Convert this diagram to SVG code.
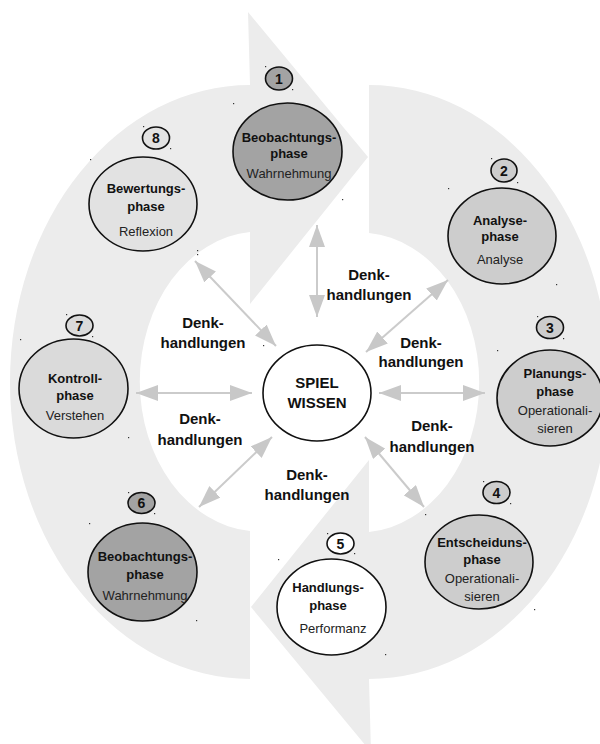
<svg xmlns="http://www.w3.org/2000/svg" width="600" height="744" viewBox="0 0 600 744">
<style>
.band{fill:#ececec}
.node{stroke:#111;stroke-width:1.6}
.num{stroke:#111;stroke-width:1.6}
.dark{fill:#a3a3a3}
.mid{fill:#cdcdcd}
.lt7{fill:#dadada}
.lt8{fill:#e2e2e2}
.wh{fill:#ffffff}
.b{font-family:"Liberation Sans",Arial,sans-serif;font-weight:bold;font-size:13px;fill:#111;text-anchor:middle}
.r{font-family:"Liberation Sans",Arial,sans-serif;font-size:13px;fill:#222;text-anchor:middle}
.nt{font-family:"Liberation Sans",Arial,sans-serif;font-weight:bold;font-size:14px;fill:#111;text-anchor:middle}
.c{font-family:"Liberation Sans",Arial,sans-serif;font-weight:bold;font-size:15px;fill:#111;text-anchor:middle}
.d{font-family:"Liberation Sans",Arial,sans-serif;font-weight:bold;font-size:15px;fill:#111;text-anchor:middle}
.con{stroke:#cbcbcb;stroke-width:2;fill:none;marker-start:url(#ah);marker-end:url(#ah)}
.dot{fill:#333}
</style>
<defs>
<marker id="ah" viewBox="0 0 22 16" refX="22" refY="8" markerWidth="22" markerHeight="16" markerUnits="userSpaceOnUse" orient="auto-start-reverse">
<path d="M0,0 L22,8 L0,16 Z" fill="#c8c8c8"/>
</marker>
</defs>
<g id="background">
<path id="arrow-left" class="band" d="M250,85 A240,297 0 0 0 250,679 L250,531 A120,150 0 0 1 250,232 L250,304 L368,157 L248,12 Z"/>
<path id="arrow-right" class="band" transform="rotate(180 309.5 382)" d="M250,85 A240,297 0 0 0 250,679 L250,531 A120,150 0 0 1 250,232 L250,304 L368,157 L248,12 Z"/>
</g>
<g id="connectors">
<line class="con" x1="317" y1="225" x2="317" y2="317"/>
<line class="con" x1="195" y1="261" x2="276" y2="346"/>
<line class="con" x1="448" y1="280" x2="366" y2="352"/>
<line class="con" x1="136" y1="393" x2="252" y2="393"/>
<line class="con" x1="379" y1="393" x2="485" y2="393"/>
<line class="con" x1="272" y1="437" x2="199" y2="507"/>
<line class="con" x1="365" y1="437" x2="424" y2="507"/>
</g>
<g id="labels">
<text class="d" x="369" y="280">Denk-</text><text class="d" x="369" y="300">handlungen</text>
<text class="d" x="421" y="348">Denk-</text><text class="d" x="421" y="367">handlungen</text>
<text class="d" x="203" y="328">Denk-</text><text class="d" x="203" y="348">handlungen</text>
<text class="d" x="200" y="424">Denk-</text><text class="d" x="200" y="445">handlungen</text>
<text class="d" x="432" y="431">Denk-</text><text class="d" x="432" y="452">handlungen</text>
<text class="d" x="307" y="480">Denk-</text><text class="d" x="307" y="500">handlungen</text>
</g>
<g id="center">
<ellipse class="node wh" cx="317" cy="393" rx="54" ry="48"/>
<text class="c" x="317" y="388">SPIEL</text>
<text class="c" x="317" y="408">WISSEN</text>
</g>
<g id="node1">
<ellipse class="num dark" cx="279" cy="78.5" rx="13.5" ry="11.5"/>
<text class="nt" x="279" y="83.5">1</text>
<ellipse class="node dark" cx="287.5" cy="151.5" rx="54.5" ry="48.5"/>
<text class="b" x="289" y="142">Beobachtungs-</text>
<text class="b" x="289" y="158">phase</text>
<text class="r" x="289" y="178">Wahrnehmung</text>
</g>
<g id="node2">
<ellipse class="num mid" cx="504" cy="170.5" rx="13" ry="11.5"/>
<text class="nt" x="504" y="175.5">2</text>
<ellipse class="node mid" cx="502" cy="236" rx="54" ry="48"/>
<text class="b" x="500" y="225">Analyse-</text>
<text class="b" x="500" y="241">phase</text>
<text class="r" x="500" y="264">Analyse</text>
</g>
<g id="node3">
<ellipse class="num mid" cx="550" cy="327.5" rx="13.5" ry="11"/>
<text class="nt" x="550" y="332.5">3</text>
<ellipse class="node mid" cx="550" cy="398" rx="53" ry="48"/>
<text class="b" x="555" y="378">Planungs-</text>
<text class="b" x="555" y="396">phase</text>
<text class="r" x="555" y="415">Operationali-</text>
<text class="r" x="555" y="433">sieren</text>
</g>
<g id="node4">
<ellipse class="num mid" cx="496.5" cy="492.5" rx="13.5" ry="11"/>
<text class="nt" x="496.5" y="497.5">4</text>
<ellipse class="node mid" cx="479" cy="562" rx="54" ry="47"/>
<text class="b" x="482" y="547">Entscheiduns-</text>
<text class="b" x="482" y="564">phase</text>
<text class="r" x="482" y="583">Operationali-</text>
<text class="r" x="482" y="601">sieren</text>
</g>
<g id="node5">
<ellipse class="num wh" cx="340.5" cy="543.5" rx="13.5" ry="10.5"/>
<text class="nt" x="340.5" y="548.5">5</text>
<ellipse class="node wh" cx="331.5" cy="607" rx="54.5" ry="48"/>
<text class="b" x="328" y="592">Handlungs-</text>
<text class="b" x="328" y="610">phase</text>
<text class="r" x="333" y="633">Performanz</text>
</g>
<g id="node6">
<ellipse class="num dark" cx="141.5" cy="503" rx="13.5" ry="10.5"/>
<text class="nt" x="141.5" y="508">6</text>
<ellipse class="node dark" cx="142.5" cy="572" rx="54.5" ry="49"/>
<text class="b" x="145" y="561">Beobachtungs-</text>
<text class="b" x="145" y="579">phase</text>
<text class="r" x="145" y="600">Wahrnehmung</text>
</g>
<g id="node7">
<ellipse class="num lt7" cx="79.5" cy="325.5" rx="13.5" ry="10.5"/>
<text class="nt" x="79.5" y="330.5">7</text>
<ellipse class="node lt7" cx="73.5" cy="388.5" rx="54.5" ry="49.5"/>
<text class="b" x="75" y="383">Kontroll-</text>
<text class="b" x="75" y="400">phase</text>
<text class="r" x="75" y="420">Verstehen</text>
</g>
<g id="node8">
<ellipse class="num lt8" cx="156" cy="138" rx="13.5" ry="11"/>
<text class="nt" x="156" y="143">8</text>
<ellipse class="node lt8" cx="143" cy="204" rx="54" ry="47"/>
<text class="b" x="146" y="193">Bewertungs-</text>
<text class="b" x="146" y="211">phase</text>
<text class="r" x="146" y="236">Reflexion</text>
</g>
<g id="handles">
<rect class="dot" x="265" y="66" width="1.2" height="1.2"/><rect class="dot" x="292" y="89" width="1.2" height="1.2"/>
<rect class="dot" x="233" y="103" width="1.2" height="1.2"/><rect class="dot" x="342" y="199" width="1.2" height="1.2"/>
<rect class="dot" x="491" y="158" width="1.2" height="1.2"/><rect class="dot" x="517" y="182" width="1.2" height="1.2"/>
<rect class="dot" x="448" y="188" width="1.2" height="1.2"/><rect class="dot" x="556" y="284" width="1.2" height="1.2"/>
<rect class="dot" x="537" y="316" width="1.2" height="1.2"/><rect class="dot" x="563" y="338" width="1.2" height="1.2"/>
<rect class="dot" x="497" y="350" width="1.2" height="1.2"/>
<rect class="dot" x="483" y="481" width="1.2" height="1.2"/><rect class="dot" x="510" y="503" width="1.2" height="1.2"/>
<rect class="dot" x="425" y="514" width="1.2" height="1.2"/><rect class="dot" x="534" y="609" width="1.2" height="1.2"/>
<rect class="dot" x="327" y="533" width="1.2" height="1.2"/><rect class="dot" x="354" y="553" width="1.2" height="1.2"/>
<rect class="dot" x="278" y="559" width="1.2" height="1.2"/><rect class="dot" x="385" y="654" width="1.2" height="1.2"/>
<rect class="dot" x="128" y="492" width="1.2" height="1.2"/><rect class="dot" x="154" y="513" width="1.2" height="1.2"/>
<rect class="dot" x="89" y="523" width="1.2" height="1.2"/><rect class="dot" x="196" y="620" width="1.2" height="1.2"/>
<rect class="dot" x="66" y="314" width="1.2" height="1.2"/><rect class="dot" x="92" y="336" width="1.2" height="1.2"/>
<rect class="dot" x="20" y="339" width="1.2" height="1.2"/><rect class="dot" x="128" y="437" width="1.2" height="1.2"/>
<rect class="dot" x="143" y="126" width="1.2" height="1.2"/><rect class="dot" x="170" y="148" width="1.2" height="1.2"/>
<rect class="dot" x="90" y="159" width="1.2" height="1.2"/><rect class="dot" x="197" y="250" width="1.2" height="1.2"/>
<rect class="dot" x="263" y="345" width="1.2" height="1.2"/><rect class="dot" x="197" y="254" width="1.2" height="1.2"/>
</g>
</svg>
